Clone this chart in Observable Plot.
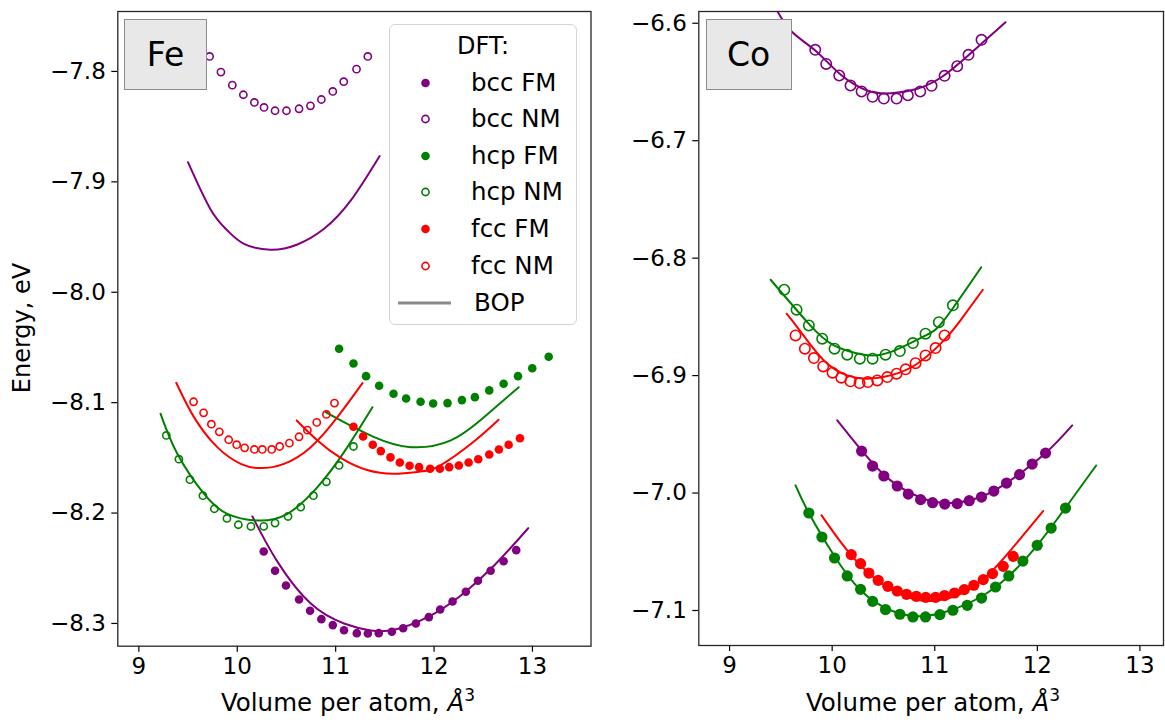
<!DOCTYPE html>
<html>
<head>
<meta charset="utf-8">
<script src="https://cdn.jsdelivr.net/npm/d3@7"></script>
<script src="https://cdn.jsdelivr.net/npm/@observablehq/plot@0.6"></script>
<style>
  body { margin: 0; background: #fff; font-family: "DejaVu Sans", sans-serif; }
  #wrap { position: relative; width: 1165px; height: 723px; overflow: hidden; background: #fff; }
  .panel { position: absolute; top: 0; }
  .elbox { position: absolute; background: #e8e8e8; border: 1.5px solid #8c8c8c; box-sizing: border-box;
           display: flex; align-items: center; justify-content: center; font-size: 33px; color: #000; }
  .xlab { position: absolute; width: 400px; text-align: center; font-size: 24.5px; line-height: 28px; top: 689px; color: #000; }
  .xlab sup { font-size: 17px; vertical-align: 10px; line-height: 0; }
  .ylab { position: absolute; width: 300px; text-align: center; font-size: 24px; line-height: 28px;
          left: -128px; top: 314px; transform: rotate(-90deg); color: #000; }
  #legend { position: absolute; left: 389px; top: 24px; width: 188px; height: 301px; box-sizing: border-box;
            border: 1px solid #d4d4d4; border-radius: 6px; background: rgba(255,255,255,0.85); }
  #legend .title { position: absolute; left: 0; width: 100%; top: 7px; text-align: center; font-size: 24px; line-height: 28px; }
  #legend .row { position: absolute; left: 0; width: 100%; height: 28px; }
  #legend .row svg { position: absolute; left: 0; top: 0; }
  #legend .row span { position: absolute; left: 81px; top: 0; font-size: 24.5px; line-height: 28px; }
</style>
</head>
<body>
<div id="wrap"></div>
<script>
// ---------- data: [volume per atom (Å^3), energy (eV)] ----------
// Fe, DFT
const feBccFM = [[10.269,-8.2348],[10.384,-8.2523],[10.495,-8.2656],[10.628,-8.2783],[10.740,-8.2885],[10.855,-8.2961],[10.971,-8.3015],[11.085,-8.3061],[11.215,-8.3088],[11.327,-8.3091],[11.438,-8.3088],[11.571,-8.3075],[11.686,-8.3043],[11.815,-8.3000],[11.947,-8.2943],[12.062,-8.2873],[12.188,-8.2801],[12.323,-8.2713],[12.446,-8.2613],[12.575,-8.2523],[12.707,-8.2436],[12.835,-8.2336]];
const feBccNM = [[9.719,-7.7864],[9.834,-7.8006],[9.950,-7.8124],[10.062,-7.8211],[10.174,-7.8281],[10.272,-7.8326],[10.384,-7.8356],[10.500,-7.8356],[10.628,-7.8338],[10.744,-7.8311],[10.855,-7.8254],[10.971,-7.8181],[11.082,-7.8093],[11.212,-7.7979],[11.327,-7.7864]];
const feHcpFM = [[11.035,-8.0512],[11.181,-8.0645],[11.309,-8.0760],[11.442,-8.0847],[11.588,-8.0919],[11.716,-8.0962],[11.863,-8.0992],[11.991,-8.1007],[12.137,-8.1004],[12.283,-8.0977],[12.415,-8.0950],[12.561,-8.0889],[12.707,-8.0829],[12.853,-8.0760],[12.998,-8.0688],[13.165,-8.0584]];
const feHcpNM = [[9.279,-8.1297],[9.407,-8.1512],[9.519,-8.1698],[9.651,-8.1843],[9.767,-8.1961],[9.895,-8.2049],[10.011,-8.2106],[10.139,-8.2121],[10.269,-8.2121],[10.384,-8.2091],[10.516,-8.2031],[10.645,-8.1946],[10.774,-8.1843],[10.906,-8.1717],[11.035,-8.1569],[11.181,-8.1397]];
const feFccFM = [[11.181,-8.1218],[11.279,-8.1306],[11.377,-8.1381],[11.459,-8.1439],[11.557,-8.1496],[11.652,-8.1542],[11.751,-8.1572],[11.848,-8.1584],[11.960,-8.1599],[12.059,-8.1599],[12.154,-8.1584],[12.252,-8.1569],[12.351,-8.1542],[12.449,-8.1512],[12.561,-8.1469],[12.659,-8.1424],[12.758,-8.1381],[12.873,-8.1322]];
const feFccNM = [[9.556,-8.0992],[9.658,-8.1092],[9.737,-8.1195],[9.818,-8.1264],[9.913,-8.1336],[9.994,-8.1381],[10.075,-8.1409],[10.174,-8.1424],[10.255,-8.1424],[10.350,-8.1424],[10.431,-8.1397],[10.530,-8.1367],[10.628,-8.1309],[10.713,-8.1249],[10.808,-8.1179],[10.906,-8.1107],[10.988,-8.1004]];
// Fe, BOP
const feBopBccFM = [[10.154,-8.2031],[10.408,-8.2440],[10.747,-8.2820],[11.085,-8.3000],[11.357,-8.3063],[11.594,-8.3057],[11.934,-8.2943],[12.273,-8.2746],[12.611,-8.2475],[12.957,-8.2137]];
const feBopBccNM = [[9.499,-7.8822],[9.729,-7.9250],[9.899,-7.9440],[10.068,-7.9561],[10.340,-7.9615],[10.611,-7.9567],[10.882,-7.9425],[11.154,-7.9168],[11.446,-7.8767]];
const feBopHcpFM = [[10.899,-8.1086],[11.051,-8.1161],[11.391,-8.1312],[11.764,-8.1403],[12.171,-8.1342],[12.510,-8.1131],[12.860,-8.0860]];
const feBopHcpNM = [[9.221,-8.1101],[9.391,-8.1463],[9.661,-8.1825],[9.899,-8.2007],[10.204,-8.2067],[10.509,-8.2007],[10.815,-8.1765],[11.085,-8.1448],[11.374,-8.1041]];
const feBopFccFM = [[10.604,-8.1161],[10.815,-8.1342],[11.051,-8.1500],[11.320,-8.1610],[11.594,-8.1644],[11.850,-8.1625],[12.069,-8.1565],[12.408,-8.1350],[12.656,-8.1155]];
const feBopFccNM = [[9.380,-8.0820],[9.560,-8.1131],[9.797,-8.1403],[10.035,-8.1554],[10.238,-8.1593],[10.475,-8.1554],[10.747,-8.1403],[11.018,-8.1131],[11.273,-8.0823]];

// Co, DFT
const coBccFM = [[10.287,-6.9643],[10.394,-6.9770],[10.504,-6.9855],[10.634,-6.9940],[10.742,-7.0009],[10.862,-7.0056],[10.979,-7.0082],[11.098,-7.0094],[11.219,-7.0090],[11.336,-7.0065],[11.456,-7.0034],[11.576,-6.9983],[11.700,-6.9915],[11.827,-6.9843],[11.950,-6.9753],[12.080,-6.9660]];
const coBccNM = [[9.835,-6.6226],[9.942,-6.6346],[10.069,-6.6445],[10.179,-6.6530],[10.287,-6.6581],[10.394,-6.6626],[10.504,-6.6641],[10.628,-6.6641],[10.738,-6.6613],[10.859,-6.6581],[10.969,-6.6533],[11.096,-6.6448],[11.219,-6.6366],[11.329,-6.6269],[11.456,-6.6141]];
const coHcpFM = [[9.773,-7.0170],[9.900,-7.0374],[10.023,-7.0553],[10.147,-7.0706],[10.277,-7.0820],[10.394,-7.0922],[10.520,-7.0992],[10.660,-7.1032],[10.787,-7.1055],[10.910,-7.1055],[11.050,-7.1035],[11.177,-7.0998],[11.317,-7.0956],[11.456,-7.0894],[11.593,-7.0800],[11.722,-7.0706],[11.859,-7.0579],[11.999,-7.0445],[12.135,-7.0298],[12.275,-7.0128]];
const coHcpNM = [[9.533,-6.8269],[9.653,-6.8439],[9.773,-6.8573],[9.903,-6.8686],[10.023,-6.8771],[10.147,-6.8822],[10.270,-6.8856],[10.394,-6.8856],[10.520,-6.8822],[10.660,-6.8791],[10.787,-6.8723],[10.910,-6.8643],[11.040,-6.8545],[11.177,-6.8402]];
const coFccFM = [[10.186,-7.0524],[10.277,-7.0601],[10.358,-7.0681],[10.449,-7.0743],[10.543,-7.0794],[10.634,-7.0834],[10.725,-7.0862],[10.820,-7.0879],[10.913,-7.0888],[11.008,-7.0888],[11.096,-7.0873],[11.193,-7.0851],[11.288,-7.0822],[11.381,-7.0785],[11.473,-7.0737],[11.563,-7.0686],[11.668,-7.0624],[11.765,-7.0539]];
const coFccNM = [[9.643,-6.8658],[9.734,-6.8771],[9.822,-6.8851],[9.913,-6.8922],[10.004,-6.8975],[10.089,-6.9018],[10.179,-6.9049],[10.267,-6.9064],[10.348,-6.9055],[10.440,-6.9041],[10.537,-6.9013],[10.628,-6.8984],[10.716,-6.8947],[10.813,-6.8894],[10.910,-6.8828],[11.008,-6.8766],[11.096,-6.8658]];
// Co, BOP
const coBopBccFM = [[10.050,-6.9381],[10.287,-6.9637],[10.569,-6.9892],[10.894,-7.0048],[11.154,-7.0085],[11.446,-7.0034],[11.739,-6.9892],[12.080,-6.9660],[12.340,-6.9424]];
const coBopBccNM = [[9.430,-6.5840],[9.595,-6.6062],[9.835,-6.6232],[10.082,-6.6437],[10.342,-6.6573],[10.569,-6.6596],[10.829,-6.6558],[11.089,-6.6445],[11.381,-6.6232],[11.690,-6.5991]];
const coBopHcpFM = [[9.643,-6.9934],[9.773,-7.0170],[10.017,-7.0530],[10.277,-7.0828],[10.569,-7.0998],[10.862,-7.1049],[11.154,-7.0998],[11.446,-7.0885],[11.722,-7.0706],[11.999,-7.0445],[12.275,-7.0125],[12.574,-6.9765]];
const coBopHcpNM = [[9.400,-6.8184],[9.773,-6.8560],[10.017,-6.8743],[10.309,-6.8822],[10.569,-6.8800],[10.894,-6.8666],[11.089,-6.8530],[11.453,-6.8077]];
const coBopFccFM = [[9.897,-7.0190],[10.147,-7.0488],[10.439,-7.0743],[10.732,-7.0885],[10.959,-7.0919],[11.219,-7.0871],[11.479,-7.0729],[11.739,-7.0488],[12.057,-7.0153]];
const coBopFccNM = [[9.556,-6.8473],[9.692,-6.8625],[9.919,-6.8871],[10.147,-6.8998],[10.342,-6.9026],[10.569,-6.8998],[10.829,-6.8899],[11.089,-6.8700],[11.251,-6.8530],[11.469,-6.8269]];

// ticks and labels
const xTicks = [9, 10, 11, 12, 13];
const feYTicks = [-8.3, -8.2, -8.1, -8.0, -7.9, -7.8];
const coYTicks = [-7.1, -7.0, -6.9, -6.8, -6.7, -6.6];
const legendLabels = ["bcc FM", "bcc NM", "hcp FM", "hcp NM", "fcc FM", "fcc NM"];
const elements = ["Fe", "Co"];

// ---------- drawing ----------
const C = {bcc: "#800080", hcp: "#008000", fcc: "#ff0000"};
const fmt = d => d.toFixed(1).replace("-", "\u2212");

function panel(cfg) {
  const dft = [
    {d: cfg.bccFM, c: C.bcc, f: true}, {d: cfg.bccNM, c: C.bcc, f: false},
    {d: cfg.hcpFM, c: C.hcp, f: true}, {d: cfg.hcpNM, c: C.hcp, f: false},
    {d: cfg.fccFM, c: C.fcc, f: true}, {d: cfg.fccNM, c: C.fcc, f: false}
  ];
  const bop = [
    {d: cfg.bBccFM, c: C.bcc}, {d: cfg.bBccNM, c: C.bcc},
    {d: cfg.bHcpFM, c: C.hcp}, {d: cfg.bHcpNM, c: C.hcp},
    {d: cfg.bFccFM, c: C.fcc}, {d: cfg.bFccNM, c: C.fcc}
  ];
  const marks = [];
  for (const s of bop) marks.push(Plot.line(s.d, {x: d => d[0], y: d => d[1], stroke: s.c, strokeWidth: 2, curve: "natural", clip: true}));
  for (const s of dft) {
    if (s.f) marks.push(Plot.dot(s.d, {x: d => d[0], y: d => d[1], r: cfg.rf, fill: s.c, stroke: "none", clip: true}));
    else marks.push(Plot.dot(s.d, {x: d => d[0], y: d => d[1], r: cfg.ro, fill: "none", stroke: s.c, strokeWidth: 1.6, clip: true}));
  }
  return Plot.plot({
    width: cfg.width, height: 723,
    marginLeft: cfg.ml, marginRight: cfg.mr, marginTop: 11, marginBottom: cfg.mb,
    x: {domain: cfg.xd},
    y: {domain: cfg.yd},
    style: {fontFamily: "DejaVu Sans", fontSize: "23px", color: "#000", background: "transparent", overflow: "visible"},
    marks: [
      Plot.axisX({ticks: xTicks, tickSize: 6, tickPadding: 5, label: null, tickFormat: d => String(d), strokeWidth: 1.2}),
      Plot.axisY({ticks: cfg.yt, tickSize: 6, tickPadding: 6, label: null, tickFormat: fmt, strokeWidth: 1.2}),
      ...marks,
      Plot.frame({stroke: "#262626", strokeWidth: 1.3})
    ]
  });
}

const wrap = document.getElementById("wrap");

const fe = panel({
  width: 600, ml: 117.3, mr: 9.5, mb: 77.3,
  xd: [8.786, 13.595], yd: [-8.3206, -7.7457], yt: feYTicks, rf: 4.3, ro: 3.6,
  bccFM: feBccFM, bccNM: feBccNM, hcpFM: feHcpFM, hcpNM: feHcpNM, fccFM: feFccFM, fccNM: feFccNM,
  bBccFM: feBopBccFM, bBccNM: feBopBccNM, bHcpFM: feBopHcpFM, bHcpNM: feBopHcpNM, bFccFM: feBopFccFM, bFccNM: feBopFccNM
});
fe.classList.add("panel"); fe.style.left = "0px";
wrap.appendChild(fe);

const co = panel({
  width: 565, ml: 98.3, mr: 2, mb: 78,
  xd: [8.70, 13.23], yd: [-7.1298, -6.5900], yt: coYTicks, rf: 5.6, ro: 5.2,
  bccFM: coBccFM, bccNM: coBccNM, hcpFM: coHcpFM, hcpNM: coHcpNM, fccFM: coFccFM, fccNM: coFccNM,
  bBccFM: coBopBccFM, bBccNM: coBopBccNM, bHcpFM: coBopHcpFM, bHcpNM: coBopHcpNM, bFccFM: coBopFccFM, bFccNM: coBopFccNM
});
co.classList.add("panel"); co.style.left = "600px";
wrap.appendChild(co);

// element label boxes
function elbox(text, left, top, w, h) {
  const b = document.createElement("div");
  b.className = "elbox";
  b.style.left = left + "px"; b.style.top = top + "px"; b.style.width = w + "px"; b.style.height = h + "px";
  b.textContent = text;
  wrap.appendChild(b);
}
elbox(elements[0], 124, 19, 83, 71);
elbox(elements[1], 705.5, 19, 86, 71);

// axis titles
function xlab(cx) {
  const d = document.createElement("div");
  d.className = "xlab";
  d.style.left = (cx - 200) + "px";
  d.innerHTML = "Volume per atom, <i>Å</i><sup>3</sup>";
  wrap.appendChild(d);
}
xlab(348);
xlab(933);
const yl = document.createElement("div");
yl.className = "ylab"; yl.textContent = "Energy, eV";
wrap.appendChild(yl);

// legend
const lg = document.createElement("div");
lg.id = "legend";
lg.innerHTML = '<div class="title">DFT:</div>';
const legendColors = [C.bcc, C.bcc, C.hcp, C.hcp, C.fcc, C.fcc];
const rowTops = [43.5, 80, 116.5, 153, 190, 227];
legendLabels.forEach((lab, i) => {
  const filled = i % 2 === 0;
  const col = legendColors[i];
  const circ = filled
    ? `<circle cx="35.5" cy="14" r="4.3" fill="${col}"/>`
    : `<circle cx="35.5" cy="14" r="3.6" fill="none" stroke="${col}" stroke-width="1.6"/>`;
  const row = document.createElement("div");
  row.className = "row";
  row.style.top = rowTops[i] + "px";
  row.innerHTML = `<svg width="70" height="28">${circ}</svg><span>${lab}</span>`;
  lg.appendChild(row);
});
const bopRow = document.createElement("div");
bopRow.className = "row";
bopRow.style.top = "263.5px";
bopRow.innerHTML = '<svg width="70" height="28"><line x1="8" x2="61" y1="14" y2="14" stroke="#8a8a8a" stroke-width="3"/></svg><span style="left:84px">BOP</span>';
lg.appendChild(bopRow);
wrap.appendChild(lg);
</script>
</body>
</html>
